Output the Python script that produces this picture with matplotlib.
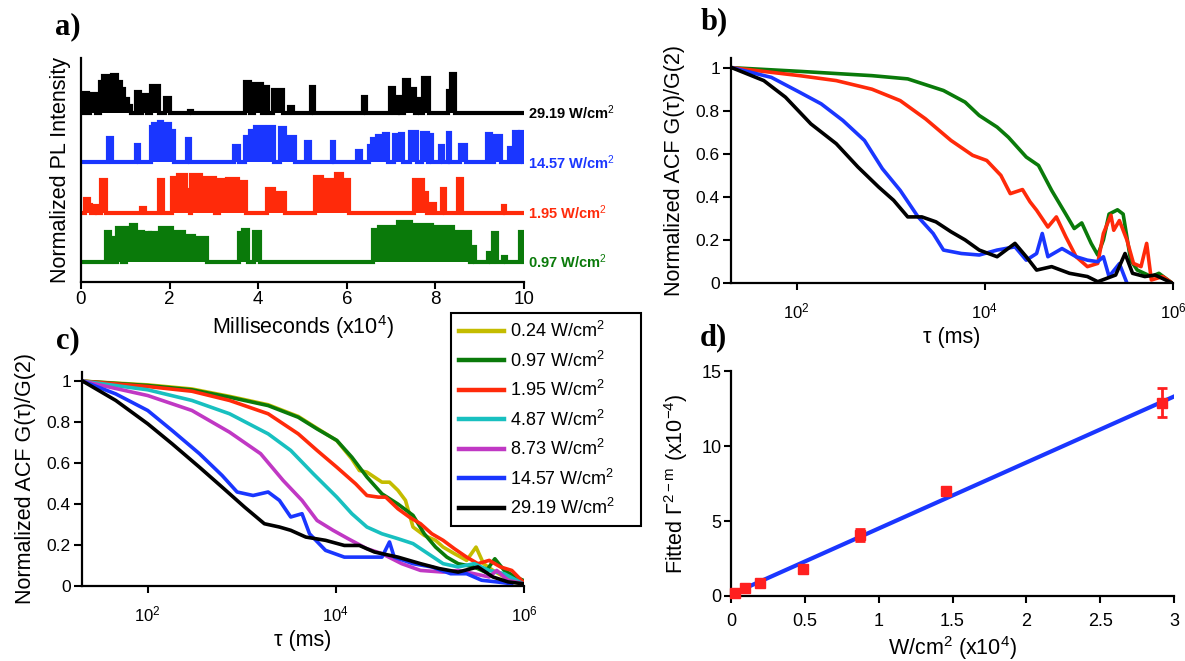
import numpy as np
import matplotlib
matplotlib.use("Agg")
import matplotlib.pyplot as plt
from matplotlib.ticker import NullLocator

plt.rcParams['font.family'] = ['Liberation Sans', 'DejaVu Sans']
plt.rcParams['mathtext.fontset'] = 'custom'
plt.rcParams['mathtext.rm'] = 'Liberation Sans'
plt.rcParams['mathtext.it'] = 'Liberation Sans:italic'
plt.rcParams['mathtext.bf'] = 'Liberation Sans:bold'

# ---------------- data ----------------
# panel a: blinking bursts (start, end, height) in units of 1e4 ms
black_bursts = [(0.06, 0.16, 0.40), (0.21, 0.33, 0.39), (0.43, 0.50, 0.62), (0.50, 0.62, 0.75),
                (0.62, 0.70, 0.69), (0.70, 0.82, 0.77), (0.82, 0.90, 0.62), (0.90, 0.97, 0.49),
                (0.97, 1.05, 0.29), (1.05, 1.13, 0.15), (1.24, 1.34, 0.43), (1.38, 1.49, 0.37),
                (1.57, 1.75, 0.54), (1.90, 2.02, 0.31), (2.44, 2.50, 0.04), (3.71, 3.82, 0.62),
                (3.90, 4.08, 0.58), (4.12, 4.21, 0.52), (4.34, 4.55, 0.47), (4.70, 4.78, 0.12),
                (5.19, 5.27, 0.52), (6.36, 6.43, 0.33), (6.98, 7.07, 0.50), (7.15, 7.21, 0.33),
                (7.30, 7.40, 0.67), (7.40, 7.54, 0.49), (7.58, 7.65, 0.29), (7.72, 7.85, 0.70),
                (8.28, 8.35, 0.45), (8.35, 8.45, 0.78)]
blue_bursts = [(0.62, 0.71, 0.48), (1.24, 1.32, 0.35), (1.57, 1.63, 0.70), (1.63, 1.75, 0.77),
               (1.75, 1.83, 0.81), (1.83, 1.90, 0.63), (1.90, 2.00, 0.77), (2.00, 2.11, 0.63),
               (2.39, 2.46, 0.47), (3.46, 3.57, 0.33), (3.71, 3.81, 0.50), (3.81, 3.92, 0.63),
               (3.92, 4.12, 0.70), (4.12, 4.23, 0.60), (4.23, 4.35, 0.71), (4.50, 4.60, 0.68),
               (4.60, 4.82, 0.50), (5.09, 5.17, 0.40), (5.66, 5.71, 0.40), (6.22, 6.33, 0.23),
               (6.49, 6.57, 0.33), (6.57, 6.68, 0.47), (6.68, 6.84, 0.53), (6.84, 6.93, 0.57),
               (7.07, 7.19, 0.55), (7.19, 7.27, 0.57), (7.42, 7.58, 0.60), (7.69, 7.83, 0.58),
               (7.85, 7.93, 0.55), (8.10, 8.18, 0.33), (8.28, 8.34, 0.58), (8.56, 8.70, 0.35),
               (9.17, 9.26, 0.57), (9.32, 9.48, 0.53), (9.67, 9.75, 0.28), (9.77, 9.87, 0.60),
               (9.91, 9.98, 0.61)]
red_bursts = [(0.09, 0.17, 0.27), (0.19, 0.23, 0.15), (0.31, 0.37, 0.13), (0.45, 0.56, 0.65),
              (1.36, 1.44, 0.09), (1.77, 1.84, 0.65), (2.06, 2.18, 0.69), (2.18, 2.37, 0.75),
              (2.37, 2.47, 0.45), (2.49, 2.72, 0.75), (2.72, 3.03, 0.69), (3.11, 3.30, 0.65),
              (3.30, 3.54, 0.67), (3.54, 3.73, 0.62), (4.20, 4.35, 0.47), (4.35, 4.60, 0.39),
              (5.28, 5.44, 0.72), (5.44, 5.75, 0.65), (5.75, 5.90, 0.77), (5.90, 6.06, 0.65),
              (7.52, 7.71, 0.65), (7.71, 7.81, 0.39), (7.91, 7.99, 0.17), (8.14, 8.22, 0.47),
              (8.51, 8.59, 0.67), (9.52, 9.58, 0.13)]
green_bursts = [(0.56, 0.66, 0.60), (0.68, 0.76, 0.47), (0.82, 0.93, 0.68), (1.01, 1.13, 0.67),
                (1.13, 1.24, 0.73), (1.24, 1.40, 0.60), (1.40, 1.55, 0.57), (1.55, 1.79, 0.57),
                (1.79, 2.06, 0.67), (2.06, 2.33, 0.60), (2.33, 2.56, 0.52), (2.56, 2.84, 0.47),
                (3.56, 3.65, 0.57), (3.65, 3.77, 0.63), (3.90, 4.04, 0.60), (6.59, 6.72, 0.63),
                (6.72, 7.15, 0.70), (7.15, 7.46, 0.80), (7.46, 7.93, 0.73), (7.93, 8.39, 0.70),
                (8.39, 8.78, 0.60), (8.82, 8.90, 0.30), (9.18, 9.26, 0.17), (9.31, 9.40, 0.57),
                (9.52, 9.60, 0.10), (9.91, 10.0, 0.60)]
trace_labels = ["29.19 W/cm$^{2}$", "14.57 W/cm$^{2}$", "1.95 W/cm$^{2}$", "0.97 W/cm$^{2}$"]

# panel b: log10(tau) and normalised ACF
b_green_logt = [1.31, 2.03, 2.80, 3.18, 3.56, 3.79, 3.94, 4.13, 4.25, 4.44, 4.57, 4.71, 4.86, 4.95, 5.03,
                5.13, 5.20, 5.26, 5.32, 5.41, 5.47, 5.55, 5.62, 5.77, 5.85, 5.99]
b_green_g = [1.0, 0.983, 0.963, 0.948, 0.894, 0.84, 0.778, 0.724, 0.677, 0.585, 0.546, 0.43, 0.32, 0.253,
             0.279, 0.184, 0.13, 0.2, 0.32, 0.34, 0.32, 0.106, 0.06, 0.03, 0.045, 0.0]
b_red_logt = [1.31, 2.03, 2.42, 2.80, 3.10, 3.37, 3.64, 3.87, 4.02, 4.17, 4.27, 4.40, 4.48, 4.55, 4.67,
              4.76, 4.86, 4.97, 5.09, 5.20, 5.26, 5.34, 5.37, 5.43, 5.51, 5.58, 5.66, 5.72, 5.77, 5.89, 5.99]
b_red_g = [1.0, 0.963, 0.94, 0.90, 0.847, 0.762, 0.662, 0.593, 0.569, 0.50, 0.415, 0.434, 0.377, 0.338,
           0.26, 0.307, 0.215, 0.122, 0.076, 0.091, 0.23, 0.315, 0.245, 0.29, 0.2, 0.091, 0.076, 0.184,
           0.014, 0.03, 0.0]
b_blue_logt = [1.31, 1.73, 2.03, 2.26, 2.49, 2.72, 2.91, 3.10, 3.29, 3.45, 3.56, 3.75, 3.94, 4.13, 4.32,
               4.44, 4.55, 4.61, 4.67, 4.82, 4.97, 5.09, 5.20, 5.26, 5.32, 5.43, 5.51]
b_blue_g = [1.0, 0.955, 0.886, 0.832, 0.755, 0.662, 0.531, 0.43, 0.307, 0.23, 0.153, 0.137, 0.13, 0.153,
            0.168, 0.106, 0.137, 0.23, 0.122, 0.16, 0.122, 0.106, 0.099, 0.122, 0.03, 0.09, 0.0]
b_black_logt = [1.31, 1.65, 1.88, 2.15, 2.42, 2.65, 2.87, 3.03, 3.18, 3.33, 3.48, 3.64, 3.79, 3.94, 4.13,
                4.32, 4.44, 4.55, 4.71, 4.90, 5.09, 5.20, 5.39, 5.49, 5.57, 5.70, 5.81, 5.99]
b_black_g = [1.0, 0.94, 0.863, 0.739, 0.647, 0.539, 0.446, 0.384, 0.307, 0.307, 0.284, 0.238, 0.2, 0.153,
             0.122, 0.184, 0.122, 0.06, 0.076, 0.045, 0.03, 0.006, 0.037, 0.137, 0.045, 0.03, 0.037, 0.0]

# panel c
c_yellow_logt = [1.31, 2.0, 2.47, 2.87, 3.28, 3.60, 3.80, 4.01, 4.17, 4.25, 4.33, 4.49, 4.57, 4.66, 4.74,
                 4.82, 4.94, 5.06, 5.14, 5.26, 5.39, 5.49, 5.57, 5.67, 5.79, 5.89, 5.99]
c_yellow_g = [1.0, 0.982, 0.962, 0.926, 0.885, 0.828, 0.77, 0.71, 0.62, 0.564, 0.556, 0.507, 0.507, 0.467,
              0.418, 0.288, 0.247, 0.223, 0.19, 0.158, 0.125, 0.19, 0.109, 0.076, 0.044, 0.02, 0.011]
c_green_logt = [1.31, 2.0, 2.47, 2.87, 3.28, 3.60, 3.80, 4.01, 4.17, 4.33, 4.49, 4.66, 4.82, 4.94, 5.06,
                5.18, 5.30, 5.47, 5.59, 5.69, 5.79, 5.91, 5.99]
c_green_g = [1.0, 0.979, 0.958, 0.922, 0.881, 0.824, 0.767, 0.711, 0.629, 0.532, 0.45, 0.40, 0.345, 0.255,
             0.19, 0.141, 0.109, 0.093, 0.068, 0.133, 0.076, 0.044, 0.028]
c_red_logt = [1.31, 2.0, 2.47, 2.87, 3.28, 3.60, 3.80, 4.01, 4.21, 4.33, 4.45, 4.53, 4.66, 4.78, 4.90,
              5.02, 5.14, 5.26, 5.39, 5.51, 5.63, 5.75, 5.87, 5.99]
c_red_g = [1.0, 0.974, 0.951, 0.906, 0.841, 0.743, 0.662, 0.580, 0.499, 0.442, 0.434, 0.434, 0.377, 0.337,
           0.304, 0.255, 0.223, 0.182, 0.141, 0.109, 0.125, 0.093, 0.076, 0.02]
c_cyan_logt = [1.31, 2.0, 2.47, 2.87, 3.28, 3.52, 3.76, 4.01, 4.17, 4.33, 4.49, 4.66, 4.82, 4.98, 5.14,
               5.30, 5.47, 5.63, 5.79, 5.99]
c_cyan_g = [1.0, 0.958, 0.906, 0.841, 0.743, 0.662, 0.548, 0.434, 0.353, 0.288, 0.255, 0.231, 0.207,
            0.158, 0.109, 0.093, 0.109, 0.076, 0.06, 0.011]
c_magenta_logt = [1.31, 2.0, 2.47, 2.87, 3.20, 3.44, 3.64, 3.80, 3.97, 4.13, 4.33, 4.49, 4.70, 4.90, 5.14,
                  5.30, 5.47, 5.63, 5.71, 5.83, 5.99]
c_magenta_g = [1.0, 0.93, 0.857, 0.751, 0.646, 0.515, 0.418, 0.320, 0.272, 0.231, 0.182, 0.158, 0.109,
               0.076, 0.068, 0.076, 0.06, 0.044, 0.076, 0.028, 0.011]
c_blue_logt = [1.31, 1.66, 2.0, 2.26, 2.55, 2.79, 2.95, 3.12, 3.28, 3.40, 3.52, 3.64, 3.72, 3.89, 4.09,
               4.29, 4.49, 4.57, 4.62, 4.82, 5.02, 5.22, 5.39, 5.55, 5.71, 5.87]
c_blue_g = [1.0, 0.938, 0.857, 0.759, 0.646, 0.540, 0.459, 0.442, 0.459, 0.418, 0.337, 0.353, 0.255,
            0.174, 0.141, 0.141, 0.141, 0.215, 0.141, 0.109, 0.093, 0.06, 0.06, 0.028, 0.02, 0.011]
c_black_logt = [1.31, 1.66, 2.0, 2.26, 2.55, 2.79, 3.03, 3.24, 3.40, 3.52, 3.68, 3.89, 4.09, 4.25, 4.41,
                4.66, 4.90, 5.10, 5.30, 5.51, 5.67, 5.83, 5.99]
c_black_g = [1.0, 0.906, 0.792, 0.694, 0.580, 0.483, 0.385, 0.304, 0.288, 0.272, 0.239, 0.223, 0.198,
             0.198, 0.166, 0.141, 0.109, 0.085, 0.068, 0.093, 0.044, 0.02, 0.011]
legend_labels = ["0.24 W/cm$^{2}$", "0.97 W/cm$^{2}$", "1.95 W/cm$^{2}$", "4.87 W/cm$^{2}$",
                 "8.73 W/cm$^{2}$", "14.57 W/cm$^{2}$", "29.19 W/cm$^{2}$"]

# panel d
d_power = [0.024, 0.097, 0.195, 0.487, 0.873, 1.457, 2.919]
d_gamma = [0.22, 0.51, 0.89, 1.82, 4.07, 7.02, 12.9]
d_err = [0.1, 0.1, 0.1, 0.1, 0.4, 0.2, 0.95]
fit_x = [0.0, 3.0]
fit_y = [0.1, 13.3]

# ---------------- styling ----------------
C_BLACK = '#000000'
C_BLUE = '#1a36ff'
C_RED = '#ff2a0a'
C_GREEN = '#0a7a0a'
C_YELLOW = '#c4bc00'
C_CYAN = '#18c0c0'
C_MAGENTA = '#c038c4'

W, H = 1185, 661
fig = plt.figure(figsize=(W / 100, H / 100), dpi=100)


def rect(l, r, t, b):
    return [l / W, 1 - b / H, (r - l) / W, (b - t) / H]


def style(ax, tick_size=13, length=5, pad=2):
    for s in ['top', 'right']:
        ax.spines[s].set_visible(False)
    for s in ['left', 'bottom']:
        ax.spines[s].set_linewidth(1.6)
    ax.tick_params(direction='out', length=length, width=1.5, labelsize=tick_size, pad=pad)


def panel_label(txt, x, y):
    fig.text(x / W, 1 - y / H, txt, fontsize=22, fontweight='bold', family='Liberation Serif',
             ha='left', va='center')


# ---- panel a ----
axa = fig.add_axes(rect(81, 524, 58, 282))
style(axa, 13.5, 4.8, 1.5)
baselines = [3.37, 2.39, 1.38, 0.40]
traces = [black_bursts, blue_bursts, red_bursts, green_bursts]
cols_a = [C_BLACK, C_BLUE, C_RED, C_GREEN]
for bursts, base, col, lab in zip(traces, baselines, cols_a, trace_labels):
    t = [0.0]
    y = [0.0]
    for a, b, h in bursts:
        t += [a, a, b, b]
        y += [0.0, h, h, 0.0]
    t.append(10.0)
    y.append(0.0)
    t = np.array(t)
    y = np.array(y) + base
    axa.fill_between(t, base, y, color=col, lw=0)
    axa.plot(t, y, color=col, lw=3.0, solid_joinstyle='miter')
    axa.text(10.1, base, lab, color=col, fontsize=10.5, fontweight='bold', ha='left', va='center')
axa.set_xlim(0, 10)
axa.set_ylim(0, 4.47)
axa.set_yticks([])
axa.set_xticks([0, 2, 4, 6, 8, 10])
axa.set_xlabel("Milliseconds (x10$^{4}$)", fontsize=15.5, labelpad=4)
axa.set_ylabel("Normalized PL Intensity", fontsize=15.5, labelpad=7)
panel_label("a)", 55, 27)


def acf_axes(ax):
    style(ax, 12.5, 6, 2)
    ax.set_xscale('log')
    ax.set_xlim(20, 1e6)
    ax.set_ylim(0, 1.045)
    ax.set_xticks([1e2, 1e4, 1e6])
    ax.set_xticklabels([r'$10^{2}$', r'$10^{4}$', r'$10^{6}$'], fontsize=12)
    ax.tick_params(axis='x', length=5, pad=8)
    ax.xaxis.set_minor_locator(NullLocator())
    ax.set_yticks([0, 0.2, 0.4, 0.6, 0.8, 1.0])
    ax.set_yticklabels(['0', '0.2', '0.4', '0.6', '0.8', '1'])
    ax.set_xlabel("τ (ms)", fontsize=15.5, labelpad=4)
    ax.set_ylabel("Normalized ACF G(τ)/G(2)", fontsize=15.5, labelpad=8)


# ---- panel b ----
axb = fig.add_axes(rect(731, 1173, 58, 283))
for lt, g, col in [(b_green_logt, b_green_g, C_GREEN), (b_red_logt, b_red_g, C_RED),
                   (b_blue_logt, b_blue_g, C_BLUE), (b_black_logt, b_black_g, C_BLACK)]:
    axb.plot(10 ** np.array(lt), g, color=col, lw=2.6)
acf_axes(axb)
panel_label("b)", 701, 22)

# ---- panel c ----
axc = fig.add_axes(rect(82, 524, 372, 586))
handles = []
for lt, g, col in [(c_yellow_logt, c_yellow_g, C_YELLOW), (c_green_logt, c_green_g, C_GREEN),
                   (c_red_logt, c_red_g, C_RED), (c_cyan_logt, c_cyan_g, C_CYAN),
                   (c_magenta_logt, c_magenta_g, C_MAGENTA), (c_blue_logt, c_blue_g, C_BLUE),
                   (c_black_logt, c_black_g, C_BLACK)]:
    ln, = axc.plot(10 ** np.array(lt), g, color=col, lw=2.6)
    handles.append(ln)
acf_axes(axc)
panel_label("c)", 56, 341)

leg = fig.legend(handles, legend_labels, loc='upper left',
                 bbox_to_anchor=(451 / W, 1 - 313 / H, 190 / W, 0), mode='expand',
                 borderaxespad=0, fontsize=13, handlelength=2.5, handletextpad=0.3,
                 labelspacing=0.52, borderpad=0.45, fancybox=False, framealpha=1, edgecolor='black')
leg.get_frame().set_linewidth(1.5)
for l in leg.get_lines():
    l.set_linewidth(3.2)

# ---- panel d ----
axd = fig.add_axes(rect(731, 1174, 371, 596))
style(axd, 13, 5, 2)
axd.tick_params(axis='x', pad=7)
axd.plot(fit_x, fit_y, color=C_BLUE, lw=3.0, zorder=2)
axd.errorbar(d_power, d_gamma, yerr=d_err, fmt='s', color='#ff2020', ms=7, capsize=3.5,
             elinewidth=2, capthick=2, zorder=3, clip_on=False)
axd.set_xlim(0, 3)
axd.set_ylim(0, 15)
axd.set_xticks([0, 0.5, 1, 1.5, 2, 2.5, 3])
axd.set_xticklabels(['0', '0.5', '1', '1.5', '2', '2.5', '3'])
axd.set_yticks([0, 5, 10, 15])
axd.set_xlabel("W/cm$^{2}$ (x10$^{4}$)", fontsize=15.5, labelpad=3)
axd.set_ylabel("Fitted Γ$^{\\mathrm{2-m}}$ (x10$^{-4}$)", fontsize=15.5, labelpad=8)
panel_label("d)", 700, 338)

fig.savefig("out.png", dpi=100)
